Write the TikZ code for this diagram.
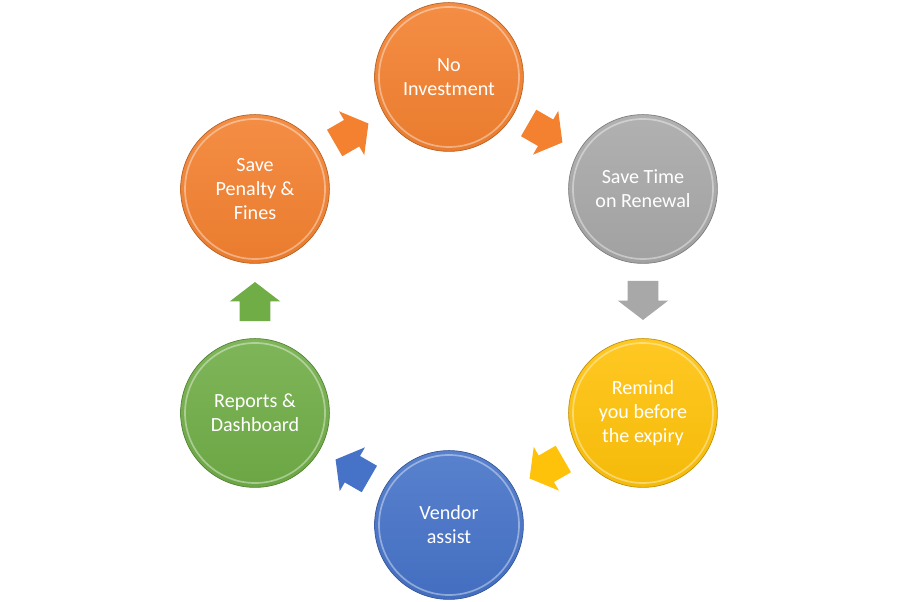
\documentclass[tikz,border=0pt]{standalone}
\usepackage{fontspec}
\setmainfont{Carlito}
\usetikzlibrary{shapes.arrows,calc}

\definecolor{orangeA}{HTML}{F38130}
\definecolor{grayA}{HTML}{A8A8A8}
\definecolor{yellowA}{HTML}{FFC20A}
\definecolor{blueA}{HTML}{4673C8}
\definecolor{greenA}{HTML}{70AD47}

\tikzset{
  bubble/.style={circle, minimum size=3.72cm, inner sep=0pt, align=center,
    text=white, font=\fontsize{14.3}{17}\selectfont,
    draw=#1!75!black, line width=0.5pt,
    top color=#1!90!white, bottom color=#1!96!black},
  blockarrow/.style={single arrow, fill=#1, draw=none,
    inner xsep=0pt, inner ysep=0.375cm,
    minimum height=0.975cm, minimum width=1.25cm,
    single arrow head extend=0.25cm, single arrow tip angle=105,
    single arrow head indent=0pt},
  rim/.style={draw=white, opacity=0.4, line width=1.2pt}
}

\begin{document}
\begin{tikzpicture}
                \useasboundingbox (-11.225,-7.525) rectangle (11.225,7.525);
                \node[bubble=orangeA] (invest) at (90:5.6) {No\\Investment};
                \node[bubble=grayA] (renew) at (30:5.6) {Save Time\\on Renewal};
                \node[bubble=yellowA] (remind) at (-30:5.6) {Remind\\you before\\the expiry};
                \node[bubble=blueA] (vendor) at (-90:5.6) {Vendor\\assist};
                \node[bubble=greenA] (report) at (210:5.6) {Reports \&\\Dashboard};
                \node[bubble=orangeA] (penalty) at (150:5.6) {Save\\Penalty \&\\Fines};
                \draw[rim] (invest.center) circle (1.75);
                \draw[rim] (renew.center) circle (1.75);
                \draw[rim] (remind.center) circle (1.75);
                \draw[rim] (vendor.center) circle (1.75);
                \draw[rim] (report.center) circle (1.75);
                \draw[rim] (penalty.center) circle (1.75);
                \node[blockarrow=orangeA, rotate=-30, xshift=-0.16cm] (invest-renew) at ($(invest)!0.5!(renew)$) {};
                \node[blockarrow=grayA, rotate=-90, xshift=-0.16cm] (renew-remind) at ($(renew)!0.5!(remind)$) {};
                \node[blockarrow=yellowA, rotate=-150, xshift=-0.16cm] (remind-vendor) at ($(remind)!0.5!(vendor)$) {};
                \node[blockarrow=blueA, rotate=150, xshift=-0.16cm] (vendor-report) at ($(vendor)!0.5!(report)$) {};
                \node[blockarrow=greenA, rotate=90, xshift=-0.16cm] (report-penalty) at ($(report)!0.5!(penalty)$) {};
                \node[blockarrow=orangeA, rotate=30, xshift=-0.16cm] (penalty-invest) at ($(penalty)!0.5!(invest)$) {};
              \end{tikzpicture}
\end{document}
